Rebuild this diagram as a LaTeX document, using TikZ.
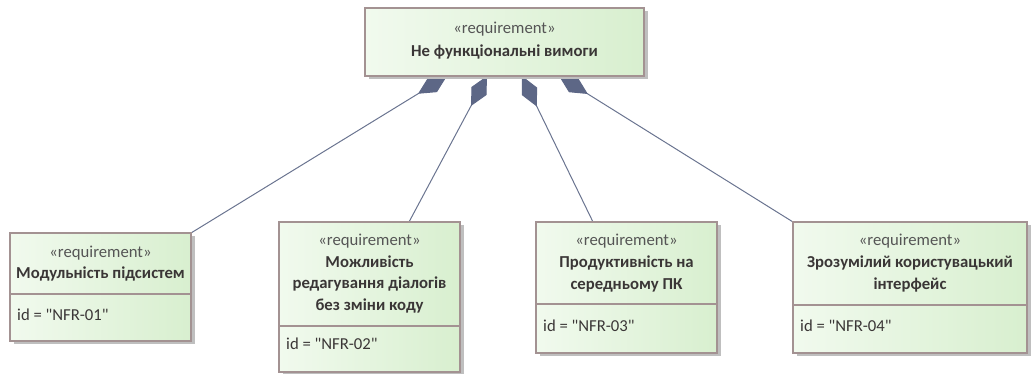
\documentclass[tikz,border=0pt]{standalone}
\usepackage{fontspec}
\setmainfont{Carlito}[Ligatures=TeXOff]
\usetikzlibrary{arrows.meta,shadows,calc}
\definecolor{reqborder}{HTML}{A39292}
\definecolor{reqleft}{HTML}{F1FAEE}
\definecolor{reqright}{HTML}{D8EFCF}
\definecolor{stereo}{HTML}{555555}
\definecolor{reqname}{HTML}{3A3636}
\definecolor{link}{HTML}{6A7490}
\definecolor{linkfill}{HTML}{5D6786}
\pgfdeclarelayer{bg}
\pgfsetlayers{bg,main}
\tikzset{
  reqbox/.style={draw=reqborder, line width=1.2pt, left color=reqleft, right color=reqright,
    drop shadow={shadow xshift=3.5pt, shadow yshift=-3.5pt, fill=black!25, opacity=1},
    inner sep=0pt, outer sep=0pt, anchor=north west},
  sepline/.style={draw=reqborder, line width=1.2pt},
  reqtext/.style={align=center, anchor=base, inner sep=0pt, text=reqname,
    font=\fontsize{16.7}{21.7}\selectfont},
  idtext/.style={anchor=base west, inner sep=0pt, text=reqname, font=\fontsize{16.7}{21.7}\selectfont},
  compose/.style={draw=link, line width=1pt,
    -{Diamond[length=34pt,width=17pt,fill=linkfill,color=linkfill]}},
}
\newcommand{\stereo}{{\color{stereo}«requirement»}}
\begin{document}
\begin{tikzpicture}[x=1pt,y=1pt]
\useasboundingbox (0,0) rectangle (1035,374);

% parent requirement (text node anchored on its last baseline)
\node[reqbox, minimum width=279, minimum height=68] (top) at (365,366) {};
\node[reqtext] (topt) at ($(top.north)+(0,-48.5)$) {\stereo\\[1.3pt]\textbf{Не функціональні вимоги}};

% child requirements
\node[reqbox, minimum width=181, minimum height=108] (c1) at (10,141) {};
\node[reqtext] (c1t) at ($(c1.north)+(0,-46)$) {\stereo\\\textbf{Модульність підсистем}};
\draw[sepline] (c1.west |- 0,80) -- (c1.east |- 0,80);
\node[idtext] (c1id) at ($(c1.west |- 0,53)+(7,0)$) {id = "NFR-01"};

\node[reqbox, minimum width=181, minimum height=150] (c2) at (279,152) {};
\node[reqtext] (c2t) at ($(c2.north)+(0,-88.7)$) {\stereo\\\textbf{Можливість}\\\textbf{редагування діалогів}\\\textbf{без зміни коду}};
\draw[sepline] (c2.west |- 0,48) -- (c2.east |- 0,48);
\node[idtext] (c2id) at ($(c2.west |- 0,24)+(7,0)$) {id = "NFR-02"};

\node[reqbox, minimum width=181, minimum height=131] (c3) at (536,152) {};
\node[reqtext] (c3t) at ($(c3.north)+(0,-67.3)$) {\stereo\\\textbf{Продуктивність на}\\\textbf{середньому ПК}};
\draw[sepline] (c3.west |- 0,70) -- (c3.east |- 0,70);
\node[idtext] (c3id) at ($(c3.west |- 0,42.3)+(7,0)$) {id = "NFR-03"};

\node[reqbox, minimum width=234, minimum height=131] (c4) at (793,152) {};
\node[reqtext] (c4t) at ($(c4.north)+(0,-67.3)$) {\stereo\\\textbf{Зрозумілий користувацький}\\\textbf{інтерфейс}};
\draw[sepline] (c4.west |- 0,69) -- (c4.east |- 0,69);
\node[idtext] (c4id) at ($(c4.west |- 0,42.3)+(7,0)$) {id = "NFR-04"};

% composition links, drawn beneath the boxes
\begin{pgfonlayer}{bg}
\draw[compose] (c1.north east) -- ($(top.south west)+(82,0)$);
\draw[compose] ($(c2.north west)+(130,0)$) -- ($(top.south west)+(122,0)$);
\draw[compose] ($(c3.north west)+(57,0)$) -- ($(top.south west)+(157,0)$);
\draw[compose] (c4.north west) -- ($(top.south west)+(194,0)$);
\end{pgfonlayer}
\end{tikzpicture}
\end{document}
